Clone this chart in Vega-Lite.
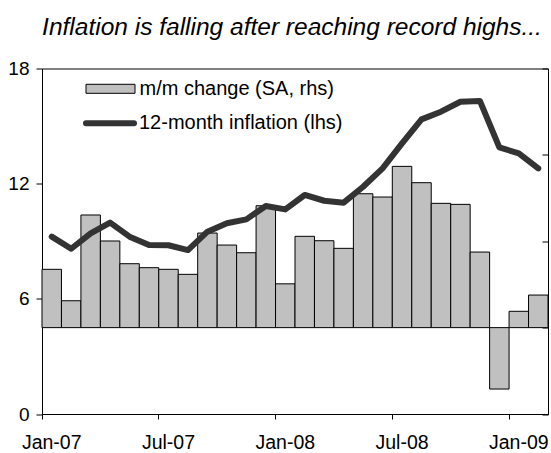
{
  "$schema": "https://vega.github.io/schema/vega-lite/v6.json",
  "width": 506,
  "height": 345.5,
  "autosize": {"type": "none"},
  "padding": {"left": 42, "top": 68.5, "right": 3, "bottom": 39},
  "title": {
    "text": "Inflation is falling after reaching record highs...",
    "font": "Liberation Sans",
    "fontStyle": "italic",
    "fontWeight": "normal",
    "fontSize": 24.5,
    "color": "black",
    "anchor": "middle",
    "frame": "group",
    "baseline": "alphabetic",
    "offset": 30,
    "dy": 30,
    "dx": -3
  },
  "data": {
    "values": [
      {"month": "Jan-07", "mm": 0.675, "infl": 9.24},
      {"month": "Feb-07", "mm": 0.311, "infl": 8.61},
      {"month": "Mar-07", "mm": 1.304, "infl": 9.41},
      {"month": "Apr-07", "mm": 1.003, "infl": 9.97},
      {"month": "May-07", "mm": 0.740, "infl": 9.24},
      {"month": "Jun-07", "mm": 0.694, "infl": 8.80},
      {"month": "Jul-07", "mm": 0.675, "infl": 8.79},
      {"month": "Aug-07", "mm": 0.617, "infl": 8.54},
      {"month": "Sep-07", "mm": 1.095, "infl": 9.50},
      {"month": "Oct-07", "mm": 0.956, "infl": 9.94},
      {"month": "Nov-07", "mm": 0.867, "infl": 10.14},
      {"month": "Dec-07", "mm": 1.411, "infl": 10.84},
      {"month": "Jan-08", "mm": 0.507, "infl": 10.66},
      {"month": "Feb-08", "mm": 1.057, "infl": 11.41},
      {"month": "Mar-08", "mm": 1.006, "infl": 11.11},
      {"month": "Apr-08", "mm": 0.918, "infl": 11.01},
      {"month": "May-08", "mm": 1.550, "infl": 11.84},
      {"month": "Jun-08", "mm": 1.512, "infl": 12.80},
      {"month": "Jul-08", "mm": 1.867, "infl": 14.10},
      {"month": "Aug-08", "mm": 1.678, "infl": 15.35},
      {"month": "Sep-08", "mm": 1.439, "infl": 15.75},
      {"month": "Oct-08", "mm": 1.427, "infl": 16.27},
      {"month": "Nov-08", "mm": 0.875, "infl": 16.31},
      {"month": "Dec-08", "mm": -0.711, "infl": 13.89},
      {"month": "Jan-09", "mm": 0.189, "infl": 13.58},
      {"month": "Feb-09", "mm": 0.377, "infl": 12.80}
    ]
  },
  "encoding": {
    "x": {
      "field": "month",
      "type": "ordinal",
      "sort": null,
      "scale": {"paddingInner": 0, "paddingOuter": 0},
      "axis": {
        "values": ["Jan-07", "Jul-07", "Jan-08", "Jul-08", "Jan-09"],
        "bandPosition": 0,
        "labelOffset": 0,
        "tickSize": 5,
        "labelPadding": 14,
        "labelAngle": 0,
        "labelFontSize": 19.5,
        "title": null
      }
    }
  },
  "layer": [
    {
      "mark": {"type": "bar", "stroke": "black", "strokeWidth": 1},
      "encoding": {
        "y": {
          "field": "mm",
          "type": "quantitative",
          "scale": {"domain": [-1, 3], "nice": false, "zero": false},
          "axis": {
            "orient": "right",
            "values": [-1, 0, 1, 2, 3],
            "labels": false,
            "tickSize": -6,
            "title": null
          }
        },
        "fill": {
          "datum": "m/m change (SA, rhs)",
          "scale": {"range": ["#c0c0c0"]},
          "legend": {
            "orient": "none",
            "legendX": 43.5,
            "legendY": -4.7,
            "padding": 0,
            "title": null,
            "symbolType": "M-1,-0.184H1V0.184H-1Z",
            "symbolSize": 2401,
            "symbolStrokeColor": "black",
            "symbolStrokeWidth": 1,
            "symbolOpacity": 1,
            "labelOffset": 4,
            "labelLimit": 400
          }
        }
      }
    },
    {
      "mark": {"type": "line", "strokeWidth": 6, "strokeCap": "round", "strokeJoin": "round"},
      "encoding": {
        "y": {
          "field": "infl",
          "type": "quantitative",
          "scale": {"domain": [0, 18], "nice": false},
          "axis": {
            "orient": "left",
            "values": [0, 6, 12, 18],
            "tickSize": 6,
            "labelPadding": 7,
            "labelFlush": false,
            "title": null
          }
        },
        "stroke": {
          "datum": "12-month inflation (lhs)",
          "scale": {"range": ["#333333"]},
          "legend": {
            "orient": "none",
            "legendX": 41,
            "legendY": 27.8,
            "padding": 0,
            "title": null,
            "symbolType": "stroke",
            "symbolSize": 2304,
            "symbolStrokeWidth": 6,
            "labelOffset": 2,
            "labelLimit": 400,
            "encode": {"symbols": {"update": {"strokeCap": {"value": "round"}}}}
          }
        }
      }
    }
  ],
  "resolve": {"scale": {"y": "independent"}},
  "config": {
    "view": {"stroke": "black", "strokeWidth": 1},
    "axis": {
      "grid": false,
      "domainColor": "black",
      "tickColor": "black",
      "labelColor": "black",
      "labelFont": "Liberation Sans",
      "labelFontSize": 19,
      "domainWidth": 1,
      "tickWidth": 1
    },
    "legend": {
      "labelFont": "Liberation Sans",
      "labelFontSize": 20,
      "labelColor": "black"
    }
  }
}
